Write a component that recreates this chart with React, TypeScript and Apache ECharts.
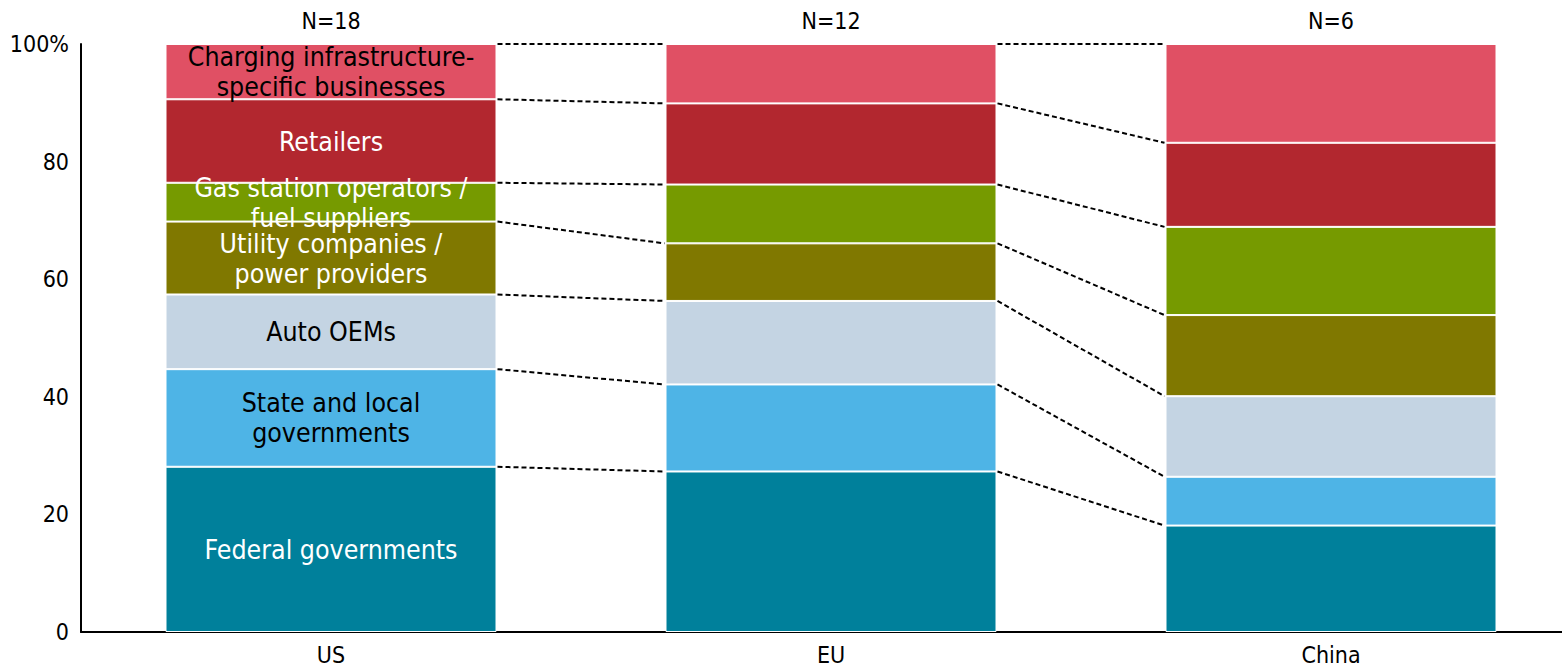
import React, { useEffect, useRef } from "react";
import * as echarts from "echarts";

// Regions on the x axis and the sample size shown above each bar
const regions = ["US", "EU", "China"];
const sampleSizes = ["N=18", "N=12", "N=6"];

// Stakeholder groups, bottom to top
const groups = [
  "Federal governments",
  "State and local\ngovernments",
  "Auto OEMs",
  "Utility companies /\npower providers",
  "Gas station operators /\nfuel suppliers",
  "Retailers",
  "Charging infrastructure-\nspecific businesses",
];

// Share of responses (%) per group, in region order US, EU, China
const federal = [28.1, 27.3, 18.1];
const stateLocal = [16.6, 14.8, 8.3];
const autoOems = [12.7, 14.2, 13.7];
const utilities = [12.4, 9.8, 13.8];
const gasStations = [6.6, 10.0, 15.0];
const retailers = [14.2, 13.8, 14.3];
const chargingBusinesses = [9.4, 10.1, 16.8];

const seriesValues = [federal, stateLocal, autoOems, utilities, gasStations, retailers, chargingBusinesses];
const colors = ["#00809B", "#4EB4E6", "#C4D4E3", "#807800", "#769A00", "#B2272F", "#E05064"];
const labelColors = ["#fff", "#000", "#000", "#fff", "#fff", "#fff", "#000"];

const BAR_WIDTH = 331;
const FONT = "'DejaVu Sans Condensed', 'DejaVu Sans', sans-serif";

export default function App() {
  const ref = useRef<HTMLDivElement>(null);

  useEffect(() => {
    if (!ref.current) return;
    const chart = echarts.init(ref.current, undefined, { renderer: "svg" });

    // cumulative tops of each segment per region
    const cumulative = regions.map((_, r) => {
      let sum = 0;
      return seriesValues.map((vals) => (sum += vals[r]));
    });

    // dashed connectors between neighbouring bars at every segment boundary
    const connectors: number[][] = [];
    for (let r = 0; r < regions.length - 1; r++) {
      for (let k = 0; k < groups.length; k++) {
        connectors.push([r, cumulative[r][k], cumulative[r + 1][k]]);
      }
    }

    const barSeries = seriesValues.map((vals, s) => ({
      type: "bar",
      name: groups[s].replace("\n", " "),
      stack: "total",
      barWidth: BAR_WIDTH,
      itemStyle: { color: colors[s], borderColor: "#fff", borderWidth: 1 },
      data: vals.map((v, r) =>
        r === 0
          ? {
              value: v,
              label: {
                show: true,
                position: "inside",
                formatter: groups[s],
                color: labelColors[s],
                fontSize: 26.5,
                lineHeight: 30,
                fontFamily: FONT,
              },
            }
          : v
      ),
    }));

    chart.setOption({
      animation: false,
      grid: { left: 81, top: 44, width: 1500, height: 588, containLabel: false },
      xAxis: [
        {
          type: "category",
          data: regions,
          position: "bottom",
          axisLine: { show: true, lineStyle: { color: "#000", width: 2 } },
          axisTick: { show: false },
          axisLabel: { color: "#000", fontSize: 23, fontFamily: FONT, margin: 11 },
        },
        {
          type: "category",
          data: sampleSizes,
          position: "top",
          axisLine: { show: false },
          axisTick: { show: false },
          axisLabel: { color: "#000", fontSize: 23, fontFamily: FONT, margin: 12 },
        },
      ],
      yAxis: {
        type: "value",
        min: 0,
        max: 100,
        interval: 20,
        axisLine: { show: true, lineStyle: { color: "#000", width: 2 } },
        axisTick: { show: false },
        splitLine: { show: false },
        axisLabel: {
          color: "#000",
          fontSize: 23,
          fontFamily: FONT,
          margin: 12,
          formatter: (v: number) => (v === 100 ? "100%" : String(v)),
        },
      },
      series: [
        ...barSeries,
        {
          type: "custom",
          name: "connectors",
          z: 1,
          encode: { x: 0, y: [1, 2] },
          data: connectors,
          renderItem: (_params: any, api: any) => {
            const r = api.value(0);
            const p0 = api.coord([r, api.value(1)]);
            const p1 = api.coord([r + 1, api.value(2)]);
            const half = BAR_WIDTH / 2;
            return {
              type: "line",
              shape: { x1: p0[0] + half + 1, y1: p0[1], x2: p1[0] - half - 1, y2: p1[1] },
              style: { stroke: "#000", lineWidth: 2, lineDash: [5, 3], fill: null },
            };
          },
        },
      ],
    });

    return () => chart.dispose();
  }, []);

  return (
    <div style={{ position: "absolute", left: 0, top: 0, width: 1562, height: 666, overflow: "hidden", background: "#fff" }}>
      <div ref={ref} style={{ width: 1600, height: 666 }} />
    </div>
  );
}
